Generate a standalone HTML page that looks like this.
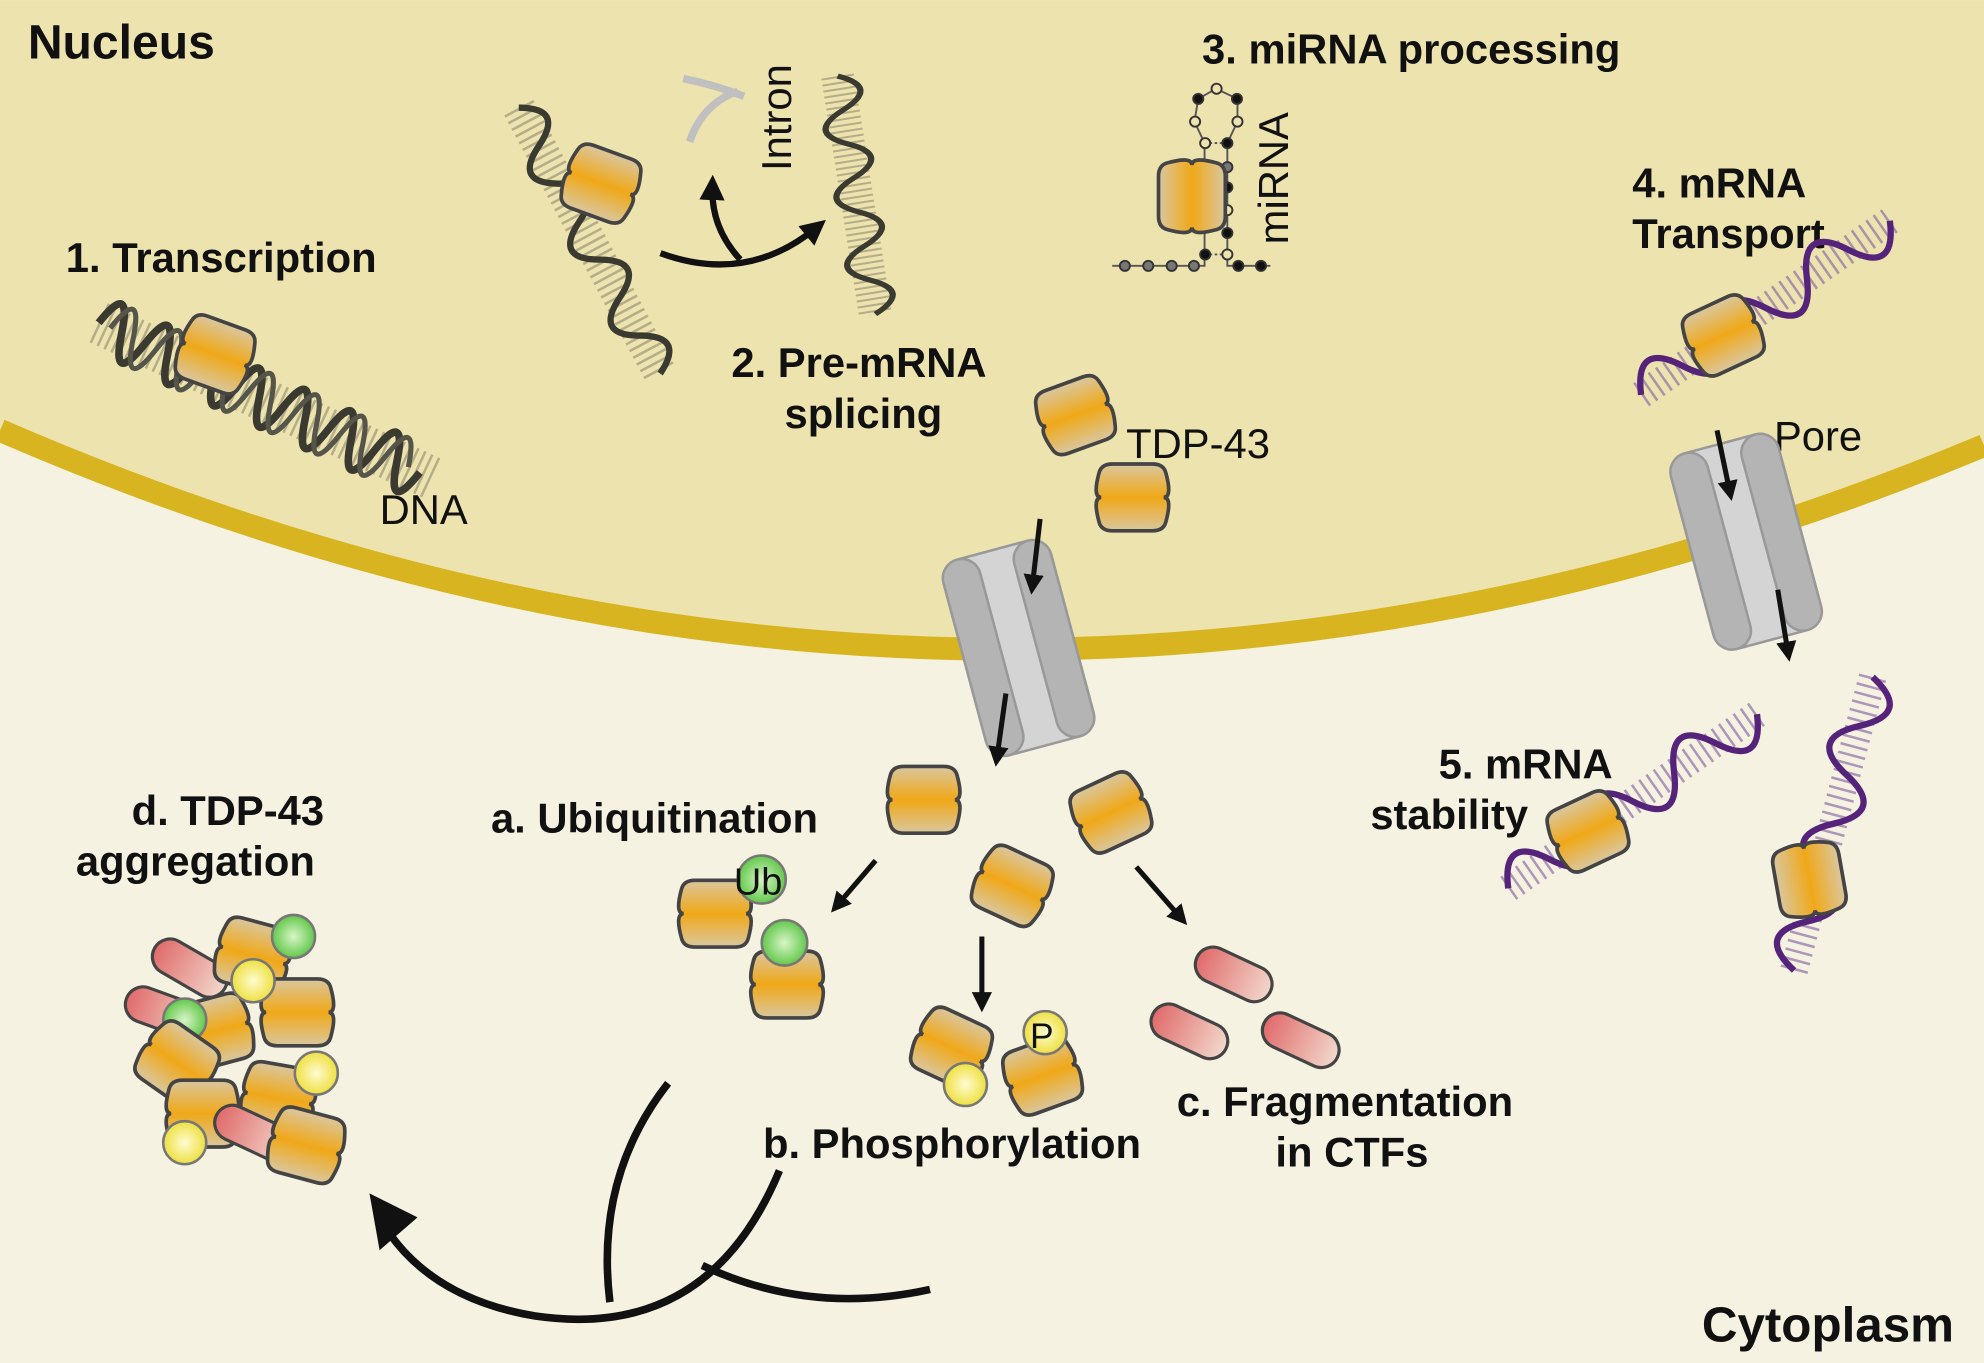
<!DOCTYPE html>
<html><head><meta charset="utf-8"><style>
html,body{margin:0;padding:0;background:#f6f2e2}
svg{display:block}
text{font-family:"Liberation Sans",Arial,sans-serif;fill:#111}
.b{font-weight:bold;font-size:33px}
.r{font-size:33px}
</style></head><body>
<svg width="1984" height="1363" viewBox="0 0 1568 1077" xmlns="http://www.w3.org/2000/svg">
<defs>
<linearGradient id="og" x1="0" x2="1" y1="0" y2="0">
<stop offset="0" stop-color="#d9c7a0"/><stop offset="0.5" stop-color="#f0a818"/><stop offset="1" stop-color="#d9c7a0"/></linearGradient>
<linearGradient id="pg" x1="0" x2="1"><stop offset="0" stop-color="#e06a6a"/><stop offset="1" stop-color="#f2d8cc"/></linearGradient>
<radialGradient id="gg"><stop offset="0" stop-color="#d8f5c8"/><stop offset="1" stop-color="#62c84a"/></radialGradient>
<radialGradient id="yg"><stop offset="0" stop-color="#fffbd0"/><stop offset="1" stop-color="#eee040"/></radialGradient>
<g id="t"><path d="M-22,-30 Q0,-36 0,-28 Q0,-36 22,-30 Q30,-28 30,-18 L30,18 Q30,28 22,30 Q0,36 0,28 Q0,36 -22,30 Q-30,28 -30,18 L-30,-18 Q-30,-28 -22,-30Z" transform="rotate(90) scale(0.88)" fill="url(#og)" stroke="#444" stroke-width="3.3"/></g>
<g id="c"><rect x="-32" y="-14" width="64" height="28" rx="14" fill="url(#pg)" stroke="#444" stroke-width="2.5"/></g>
<g id="pore">
<rect x="-44" y="-80" width="88" height="160" rx="16" fill="#d4d4d4" stroke="#999" stroke-width="2"/>
<rect x="-44" y="-80" width="30" height="160" rx="15" fill="#b4b4b4" stroke="#999" stroke-width="2"/>
<rect x="14" y="-80" width="30" height="160" rx="15" fill="#b4b4b4" stroke="#999" stroke-width="2"/>
</g>
<g id="dna">
<line x1="0" y1="0" x2="290" y2="0" stroke="#a8a080" stroke-width="34" stroke-dasharray="2 4" opacity="0.8"/>
<path d="M0,0 q10,-42 20,0 t20,0 t20,0 t20,0 t20,0 t20,0 t20,0 t20,0 t20,0 t20,0 t20,0 t20,0 t20,0 t20,0" fill="none" stroke="#3a3a30" stroke-width="6"/>
<path d="M10,0 q10,-42 20,0 t20,0 t20,0 t20,0 t20,0 t20,0 t20,0 t20,0 t20,0 t20,0 t20,0 t20,0 t20,0" fill="none" stroke="#55554a" stroke-width="4"/>
</g>
<g id="dna2">
<line x1="0" y1="0" x2="240" y2="0" stroke="#a8a080" stroke-width="26" stroke-dasharray="2 4" opacity="0.8"/>
<path d="M0,0 q17,-32 34,0 t34,0 t34,0 t34,0 t34,0 t34,0 t34,0" fill="none" stroke="#3a3a30" stroke-width="5"/>
</g>
<g id="rna">
<line x1="0" y1="0" x2="245" y2="0" stroke="#9070a8" stroke-width="22" stroke-dasharray="2 5" opacity="0.7"/>
<path d="M0,0 q20,-38 40,0 t40,0 t40,0 t40,0 t40,0 t40,0" fill="none" stroke="#55237a" stroke-width="5"/>
</g>
<marker id="ah" viewBox="0 0 10 10" refX="5" refY="5" markerWidth="4" markerHeight="4" orient="auto"><path d="M0,0L10,5L0,10Z" fill="#111"/></marker>
</defs>
<rect width="1568" height="1077" fill="#f6f2e2"/>
<path d="M0,0 H1568 V352 Q784,680 0,340 Z" fill="#ede3ae"/>
<path d="M0,340 Q784,680 1568,352" fill="none" stroke="#d8b520" stroke-width="18"/>

<text x="22" y="46" class="b" style="font-size:38px">Nucleus</text>
<text x="52" y="215" class="b">1. Transcription</text>
<use href="#dna" transform="translate(78,255) rotate(25)"/>
<use href="#t" transform="translate(170,280) rotate(20)"/>
<text x="300" y="414" class="r">DNA</text>

<use href="#dna2" transform="translate(410,85) rotate(62)"/>
<use href="#dna2" transform="translate(662,60) rotate(81) scale(0.8,1)"/>
<path d="M540,62 q25,5 48,14 M545,112 q10,-30 38,-40" stroke="#c0c0c0" stroke-width="6" fill="none"/>
<use href="#t" transform="translate(475,145) rotate(20)"/>
<text transform="translate(625,135) rotate(-90)" class="r">Intron</text>
<path d="M522,200 Q590,225 645,180" fill="none" stroke="#111" stroke-width="5" marker-end="url(#ah)"/>
<path d="M585,205 Q562,180 563,148" fill="none" stroke="#111" stroke-width="5" marker-end="url(#ah)"/>
<text x="578" y="298" class="b">2. Pre-mRNA</text>
<text x="620" y="338" class="b">splicing</text>

<text x="950" y="50" class="b">3. miRNA processing</text>
<g stroke="#555" stroke-width="1.5" fill="none">
<path d="M879,210 H952 V113 L944,96 L947,78 L961,70 L978,78 L978,96 L970,113 V210 H1004"/>
<path d="M952,113 H970 M952,201 H970" stroke-dasharray="2 2"/>
</g>
<g stroke="#333" stroke-width="1.5">
<circle cx="961.5" cy="70" r="4" fill="#ede3ae"/><circle cx="947" cy="78" r="4" fill="#111"/><circle cx="977.6" cy="78" r="4" fill="#111"/>
<circle cx="944.5" cy="96" r="4" fill="#ede3ae"/><circle cx="978" cy="96" r="4" fill="#ede3ae"/>
<circle cx="952.5" cy="113" r="4" fill="#ede3ae"/><circle cx="970" cy="113" r="4" fill="#111"/>
<circle cx="970" cy="132" r="4" fill="#777"/><circle cx="970" cy="148" r="4" fill="#111"/><circle cx="970" cy="166" r="4" fill="#ede3ae"/><circle cx="970" cy="184" r="4" fill="#111"/>
<circle cx="952.5" cy="201" r="4" fill="#111"/><circle cx="970" cy="201" r="4" fill="#ede3ae"/>
<circle cx="889" cy="210" r="4" fill="#777"/><circle cx="907.5" cy="210" r="4" fill="#777"/><circle cx="926" cy="210" r="4" fill="#777"/><circle cx="943.6" cy="210" r="4" fill="#777"/><circle cx="978.7" cy="210" r="4" fill="#111"/><circle cx="996.6" cy="210" r="4" fill="#111"/>
</g>
<use href="#t" transform="translate(942,155) rotate(90)"/>
<text transform="translate(1018,193) rotate(-90)" class="r">miRNA</text>

<text x="1290" y="156" class="b">4. mRNA</text>
<text x="1290" y="196" class="b">Transport</text>
<use href="#rna" transform="translate(1297,312) rotate(-35)"/>
<use href="#t" transform="translate(1362,265) rotate(-25)"/>

<use href="#t" transform="translate(850,328) rotate(-20)"/>
<use href="#t" transform="translate(895,393)"/>
<text x="890" y="362" class="r">TDP-43</text>
<text x="1402" y="356" class="r">Pore</text>
<use href="#pore" transform="translate(805,512) rotate(-15)"/>
<use href="#pore" transform="translate(1380,428) rotate(-15)"/>
<g stroke="#111" stroke-width="4" marker-end="url(#ah)">
<line x1="822" y1="410" x2="816" y2="462"/>
<line x1="795" y1="548" x2="788" y2="598"/>
<line x1="1357" y1="340" x2="1367" y2="388"/>
<line x1="1405" y1="466" x2="1413" y2="515"/>
<line x1="692" y1="680" x2="662" y2="715"/>
<line x1="776" y1="740" x2="776" y2="792"/>
<line x1="898" y1="685" x2="933" y2="725"/>
</g>

<use href="#t" transform="translate(730,632)"/>
<use href="#t" transform="translate(878,642) rotate(-25)"/>
<use href="#t" transform="translate(800,700) rotate(25)"/>

<text x="388" y="658" class="b">a. Ubiquitination</text>
<use href="#t" transform="translate(565,722)"/>
<use href="#t" transform="translate(622,778)"/>
<circle cx="602" cy="695" r="19" fill="url(#gg)" stroke="#777" stroke-width="2"/>
<text x="580" y="707" class="r" style="font-size:30px">Ub</text>
<circle cx="620" cy="745" r="18" fill="url(#gg)" stroke="#777" stroke-width="2"/>

<use href="#t" transform="translate(752,828) rotate(25)"/>
<use href="#t" transform="translate(824,850) rotate(-20)"/>
<circle cx="826" cy="816" r="17" fill="url(#yg)" stroke="#777" stroke-width="2"/>
<text x="814" y="828" class="r" style="font-size:28px">P</text>
<circle cx="763" cy="857" r="17" fill="url(#yg)" stroke="#777" stroke-width="2"/>
<text x="603" y="915" class="b">b. Phosphorylation</text>

<use href="#c" transform="translate(975,770) rotate(25)"/>
<use href="#c" transform="translate(940,815) rotate(25)"/>
<use href="#c" transform="translate(1028,822) rotate(25)"/>
<text x="930" y="882" class="b">c. Fragmentation</text>
<text x="1008" y="922" class="b">in CTFs</text>

<text x="104" y="652" class="b">d. TDP-43</text>
<text x="60" y="692" class="b">aggregation</text>
<use href="#c" transform="translate(150,765) rotate(30)"/>
<use href="#c" transform="translate(130,800) rotate(20)"/>
<use href="#t" transform="translate(200,755) rotate(15)"/>
<circle cx="232" cy="740" r="17" fill="url(#gg)" stroke="#777" stroke-width="2"/>
<use href="#t" transform="translate(235,800)"/>
<use href="#t" transform="translate(170,815) rotate(-15)"/>
<circle cx="146" cy="806" r="17" fill="url(#gg)" stroke="#777" stroke-width="2"/>
<use href="#t" transform="translate(140,840) rotate(35)"/>
<use href="#t" transform="translate(220,868) rotate(10)"/>
<use href="#t" transform="translate(160,880)"/>
<use href="#c" transform="translate(200,895) rotate(25)"/>
<use href="#t" transform="translate(242,905) rotate(15)"/>
<circle cx="200" cy="775" r="17" fill="url(#yg)" stroke="#777" stroke-width="2"/>
<circle cx="250" cy="848" r="17" fill="url(#yg)" stroke="#777" stroke-width="2"/>
<circle cx="146" cy="903" r="17" fill="url(#yg)" stroke="#777" stroke-width="2"/>

<g fill="none" stroke="#111" stroke-width="6">
<path d="M616,925 Q560,1060 423,1040 Q345,1027 308,975"/>
<path d="M528,856 Q470,930 482,1029"/>
<path d="M735,1019 Q640,1040 555,1000"/>
</g>
<path d="M292,943 L330,962 L300,988 Z" fill="#111"/>

<text x="1137" y="615" class="b">5. mRNA</text>
<text x="1083" y="655" class="b">stability</text>
<use href="#rna" transform="translate(1192,702) rotate(-35)"/>
<use href="#rna" transform="translate(1480,535) rotate(105)"/>
<use href="#t" transform="translate(1255,657) rotate(-25)"/>
<use href="#t" transform="translate(1430,695) rotate(80)"/>

<text x="1345" y="1060" class="b" style="font-size:39px">Cytoplasm</text>
</svg>
</body></html>
